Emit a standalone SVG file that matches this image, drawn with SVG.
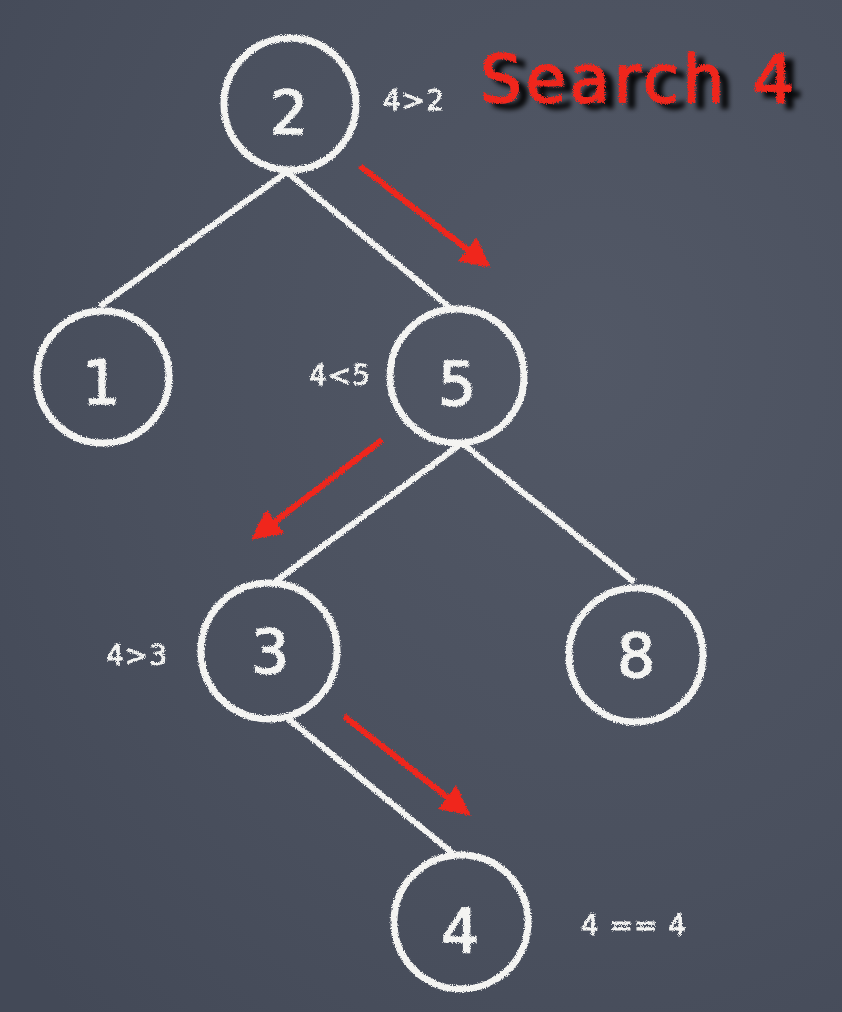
<svg xmlns="http://www.w3.org/2000/svg" width="842" height="1012" viewBox="0 0 842 1012">
<defs>
<radialGradient id="bg" cx="0.7" cy="0.35" r="0.9">
<stop offset="0" stop-color="#525866"/>
<stop offset="0.6" stop-color="#4a505e"/>
<stop offset="1" stop-color="#434957"/>
</radialGradient>
<filter id="chalk" x="-10%" y="-10%" width="120%" height="120%">
<feTurbulence type="fractalNoise" baseFrequency="0.9" numOctaves="2" seed="3" result="n"/>
<feDisplacementMap in="SourceGraphic" in2="n" scale="4" xChannelSelector="R" yChannelSelector="G"/>
</filter>
<filter id="titlefx" x="-10%" y="-30%" width="130%" height="170%">
<feTurbulence type="fractalNoise" baseFrequency="0.9" numOctaves="2" seed="5" result="n"/>
<feDisplacementMap in="SourceGraphic" in2="n" scale="4" xChannelSelector="R" yChannelSelector="G" result="d"/>
<feGaussianBlur in="SourceAlpha" stdDeviation="2.5" result="b"/>
<feOffset in="b" dx="9" dy="6" result="o"/>
<feColorMatrix in="o" type="matrix" values="0 0 0 0 0  0 0 0 0 0  0 0 0 0 0  0 0 0 0.9 0" result="s"/>
<feMerge><feMergeNode in="s"/><feMergeNode in="d"/></feMerge>
</filter>
<marker id="ah" viewBox="0 0 10 10" refX="8" refY="5" markerWidth="5" markerHeight="5" orient="auto" markerUnits="strokeWidth">
<path d="M0,0 L10,5 L0,10 z" fill="#f0261c"/>
</marker>
<style>
.node circle{fill:none;stroke:#f4f4f2;stroke-width:7}
.num{fill:#f4f4f2;stroke:#f4f4f2;stroke-width:1.5;font-family:"DejaVu Sans",sans-serif;font-size:60px;text-anchor:middle}
.lbl{fill:#f4f4f2;stroke:#f4f4f2;stroke-width:0.8;font-family:"DejaVu Sans",sans-serif;font-size:28px;letter-spacing:1px;text-anchor:middle}
.edge{stroke:#f4f4f2;stroke-width:6;fill:none}
.arrow{stroke:#f0261c;stroke-width:6;fill:none;marker-end:url(#ah)}
</style>
</defs>
<rect width="842" height="1012" fill="url(#bg)"/>
<g id="connectors" filter="url(#chalk)">
<line class="edge" x1="287" y1="172" x2="100" y2="306"/>
<line class="edge" x1="287" y1="172" x2="455" y2="312"/>
<line class="edge" x1="462" y1="443" x2="276" y2="581"/>
<line class="edge" x1="462" y1="443" x2="634" y2="582"/>
<line class="edge" x1="285" y1="716" x2="456" y2="856"/>
<line class="arrow" x1="360" y1="166" x2="486" y2="264"/>
<line class="arrow" x1="382" y1="440" x2="256" y2="536"/>
<line class="arrow" x1="344" y1="716" x2="466" y2="812"/>
</g>
<g id="node2" class="node" filter="url(#chalk)"><circle cx="290" cy="104" r="66"/><text class="num" x="289" y="134">2</text></g>
<g id="node1" class="node" filter="url(#chalk)"><circle cx="103" cy="377" r="66"/><text class="num" x="101" y="404">1</text></g>
<g id="node5" class="node" filter="url(#chalk)"><circle cx="457" cy="376" r="67"/><text class="num" x="457" y="405">5</text></g>
<g id="node3" class="node" filter="url(#chalk)"><circle cx="269" cy="651" r="68"/><text class="num" x="270" y="673">3</text></g>
<g id="node8" class="node" filter="url(#chalk)"><circle cx="636" cy="655" r="67"/><text class="num" x="636" y="677">8</text></g>
<g id="node4" class="node" filter="url(#chalk)"><circle cx="461" cy="922" r="67"/><text class="num" x="460" y="952">4</text></g>
<g id="labels" filter="url(#chalk)">
<text class="lbl" x="414" y="110">4&gt;2</text>
<text class="lbl" x="340" y="385">4&lt;5</text>
<text class="lbl" x="137" y="665">4&gt;3</text>
<text class="lbl" x="634" y="935" letter-spacing="2">4 == 4</text>
</g>
<g id="title">
<text x="480" y="102" fill="#f0261c" stroke="#f0261c" stroke-width="1.5" font-family="DejaVu Sans,sans-serif" font-size="66" letter-spacing="3.5" filter="url(#titlefx)">Search 4</text>
</g>
</svg>
